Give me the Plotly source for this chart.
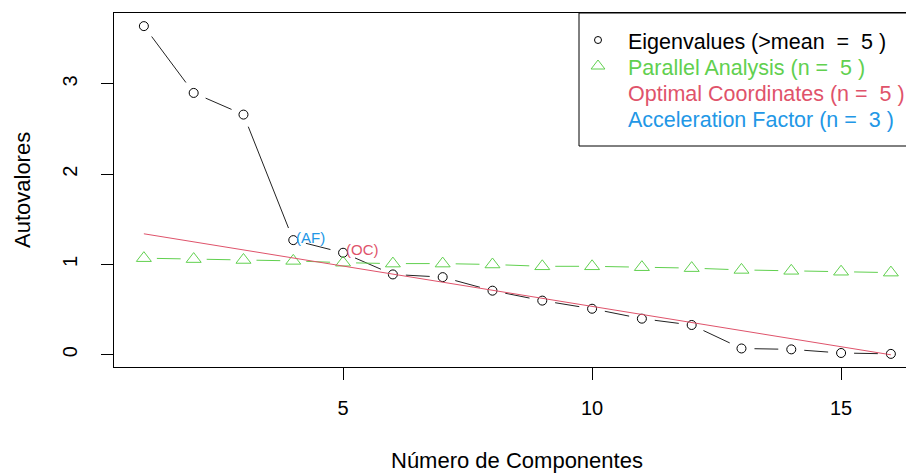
import math
import plotly.graph_objects as go

# Scree data: 16 components
components = list(range(1, 17))
eigenvalues = [3.64, 2.90, 2.66, 1.27, 1.13, 0.89, 0.86, 0.71,
               0.60, 0.51, 0.40, 0.33, 0.07, 0.06, 0.02, 0.01]
parallel = [1.07, 1.06, 1.05, 1.04, 1.02, 1.01, 1.01, 1.00,
            0.98, 0.98, 0.97, 0.96, 0.94, 0.93, 0.92, 0.91]
oc_x = [1, 16]
oc_y = [1.34, 0.0]

x_ticks = [5, 10, 15]
y_ticks = [0, 1, 2, 3]

legend_labels = [
    "Eigenvalues (>mean  =  5 )",
    "Parallel Analysis (n =  5 )",
    "Optimal Coordinates (n =  5 )",
    "Acceleration Factor (n =  3 )",
]

BLACK = "#000000"
RED = "#DF536B"
GREEN = "#61D04F"
BLUE = "#2297E6"
FONT = "Arial, Liberation Sans, sans-serif"

# figure geometry
W, H = 906, 473
ML, MR, MT, MB = 114, 0, 13, 106
PW, PH = W - ML - MR, H - MT - MB

# axis ranges, R style 4% padding
x_lo = 1 - 0.04 * (16 - 1)
x_hi = x_lo + PW / 49.8
y_min, y_max = min(eigenvalues), max(eigenvalues)
pad = 0.04 * (y_max - y_min)
y_lo, y_hi = y_min - pad, y_max + pad

sx = PW / (x_hi - x_lo)
sy = PH / (y_hi - y_lo)


def gapped(xs, ys, gap_px=13):
    """Line segments between points, leaving a gap around each marker (type='b')."""
    gx, gy = [], []
    for i in range(len(xs) - 1):
        dxp = (xs[i + 1] - xs[i]) * sx
        dyp = (ys[i + 1] - ys[i]) * sy
        d = math.hypot(dxp, dyp)
        if d <= 2 * gap_px:
            continue
        f = gap_px / d
        gx += [xs[i] + (xs[i + 1] - xs[i]) * f, xs[i + 1] - (xs[i + 1] - xs[i]) * f, None]
        gy += [ys[i] + (ys[i + 1] - ys[i]) * f, ys[i + 1] - (ys[i + 1] - ys[i]) * f, None]
    return gx, gy


fig = go.Figure()

ex, ey = gapped(components, eigenvalues)
fig.add_trace(go.Scatter(x=ex, y=ey, mode="lines",
                         line=dict(color="#222222", width=1), hoverinfo="skip"))
fig.add_trace(go.Scatter(x=components, y=eigenvalues, mode="markers",
                         marker=dict(symbol="circle-open", size=9,
                                     color=BLACK, line=dict(width=1))))

px_, py_ = gapped(components, parallel)
fig.add_trace(go.Scatter(x=px_, y=py_, mode="lines",
                         line=dict(color=GREEN, width=1), hoverinfo="skip"))
fig.add_trace(go.Scatter(x=components, y=parallel, mode="markers",
                         marker=dict(symbol="triangle-up-open", size=13,
                                     color=GREEN, line=dict(width=1))))

fig.add_trace(go.Scatter(x=oc_x, y=oc_y, mode="lines",
                         line=dict(color=RED, width=1)))

# (AF) and (OC) markers next to the chosen components
fig.add_annotation(x=4, y=eigenvalues[3], text="(AF)", showarrow=False,
                   xanchor="left", yanchor="middle", xshift=1, yshift=3,
                   font=dict(family=FONT, size=15, color=BLUE))
fig.add_annotation(x=5, y=eigenvalues[4], text="(OC)", showarrow=False,
                   xanchor="left", yanchor="middle", xshift=1, yshift=3.5,
                   font=dict(family=FONT, size=15, color=RED))

# axis titles
fig.add_annotation(x=(1 - 0.6 + 16 + 0.6) / 2, xref="x", y=(MT + PH - 460) / PH,
                   yref="paper", text="Número de Componentes", showarrow=False,
                   yanchor="middle", font=dict(family=FONT, size=22, color=BLACK))
fig.add_annotation(x=(22 - ML) / PW, xref="paper", y=(y_lo + y_hi) / 2, yref="y",
                   text="Autovalores", showarrow=False, textangle=-90,
                   xanchor="center", font=dict(family=FONT, size=22, color=BLACK))


# legend box, drawn in pixel-based paper coordinates
def pxx(p):
    return (p - ML) / PW


def pxy(p):
    return (MT + PH - p) / PH


fig.add_shape(type="rect", xref="paper", yref="paper",
              x0=pxx(579), x1=pxx(W + 20), y0=pxy(146), y1=pxy(MT),
              line=dict(color=BLACK, width=1), layer="above")

legend_colors = [BLACK, GREEN, RED, BLUE]
row_y = [42, 68, 94, 120]
for lab, col, ry in zip(legend_labels, legend_colors, row_y):
    fig.add_annotation(x=pxx(626), y=pxy(ry), xref="paper", yref="paper",
                       text=lab, showarrow=False, xanchor="left", yanchor="middle",
                       font=dict(family=FONT, size=21.5, color=col))

# legend symbols on a pixel overlay axis
fig.add_trace(go.Scatter(x=[598], y=[40], mode="markers", xaxis="x2", yaxis="y2",
                         marker=dict(symbol="circle-open", size=7, color=BLACK,
                                     line=dict(width=1)), cliponaxis=False))
fig.add_trace(go.Scatter(x=[598], y=[66], mode="markers", xaxis="x2", yaxis="y2",
                         marker=dict(symbol="triangle-up-open", size=12, color=GREEN,
                                     line=dict(width=1)), cliponaxis=False))

axis_common = dict(showgrid=False, zeroline=False, showline=True, linecolor=BLACK,
                   linewidth=1, ticks="outside", ticklen=12, tickwidth=1,
                   tickcolor=BLACK, tickfont=dict(family=FONT, size=20, color=BLACK))

fig.update_layout(
    width=W, height=H,
    margin=dict(l=ML, r=MR, t=MT, b=MB, pad=0),
    paper_bgcolor="white", plot_bgcolor="white",
    showlegend=False,
    xaxis=dict(range=[x_lo, x_hi], tickvals=x_ticks, mirror=True,
               ticklabelstandoff=11, **axis_common),
    yaxis=dict(range=[y_lo, y_hi], tickvals=y_ticks, tickangle=-90,
               ticklabelstandoff=16, **axis_common),
    xaxis2=dict(range=[ML, W], overlaying="x", visible=False, domain=[0, 1]),
    yaxis2=dict(range=[MT + PH, MT], overlaying="y", visible=False),
)

fig.write_html("out.html")
